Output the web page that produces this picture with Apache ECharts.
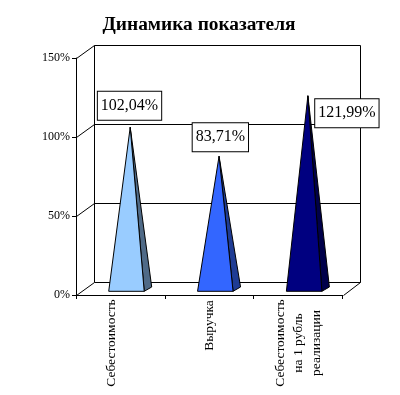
<!DOCTYPE html>
<html><head><meta charset="utf-8">
<style>html,body{margin:0;padding:0;background:#fff}#c{width:400px;height:395px}</style>
<script src="https://cdn.jsdelivr.net/npm/echarts@6/dist/echarts.min.js"></script>
</head><body><div id="c"></div>
<script>
const categories = ['Себестоимость', 'Выручка', 'Себестоимость на 1 рубль реализации'];
const values = [102.04, 83.71, 121.99];
const valueLabels = ['102,04%', '83,71%', '121,99%'];
const frontColors = ['#99CCFF', '#3366FF', '#000080'];
const sideColors = ['#4F6A87', '#1F3C94', '#00004A'];
const yTicks = [0, 50, 100, 150];

const FONT = '"Liberation Serif","Times New Roman",serif';
const DEPTH = [17.5, -13];
const labelShift = [[-0.7, -21.5], [1.3, -19], [39, 17.5]];
const axisLabelText = [
  '{t|Себестоимость}\n{t| }',
  '{s|Выручка}',
  '{t|Себестоимость}\n{t|на 1 рубль}\n{t|реализации}'
];

function px(v){ return Math.round(v) + 0.5; }

function renderWall(params, api) {
  const v = api.value(0);
  const front = api.coord([0, v]);
  const y = front[1];
  const cs = params.coordSys;
  const xL = cs.x, xR = cs.x + cs.width;
  const kids = [];
  const ln = (a, b, c, d) => kids.push({type:'line', shape:{x1:a,y1:b,x2:c,y2:d}, style:{stroke:'#000',lineWidth:1,fill:null}});
  ln(px(xL+DEPTH[0]), px(y+DEPTH[1]), px(xR+DEPTH[0]), px(y+DEPTH[1]));
  ln(px(xL), px(y), px(xL+DEPTH[0]), px(y+DEPTH[1]));
  if (v === 0) ln(px(xR), px(y), px(xR+DEPTH[0]), px(y+DEPTH[1]));
  if (v === 150) {
    const y0 = api.coord([0, 0])[1];
    ln(px(xL+DEPTH[0]), px(y+DEPTH[1]), px(xL+DEPTH[0]), px(y0+DEPTH[1]));
    ln(px(xR+DEPTH[0]), px(y+DEPTH[1]), px(xR+DEPTH[0]), px(y0+DEPTH[1]));
  }
  return {type:'group', children:kids};
}

function renderPyramid(params, api) {
  const i = params.dataIndex;
  const base = api.coord([i, 0]);
  const top = api.coord([i, api.value(1)]);
  const apex = [base[0]+9.8, top[1]-6.5];
  const fl = [base[0]-11.7, base[1]-3.7];
  const fr = [base[0]+23.8, base[1]-3.7];
  const br = [base[0]+31.3, base[1]-8];
  const shift = labelShift[i];
  return {type:'group', children:[
    {type:'polygon', shape:{points:[fr, br, apex]}, style:{fill:sideColors[i], stroke:'#000', lineWidth:1}},
    {type:'polygon', shape:{points:[fl, fr, apex]}, style:{fill:frontColors[i], stroke:'#000', lineWidth:1}},
    {type:'text', z2:50, style:{
      x:apex[0]+shift[0], y:top[1]-6.5+shift[1], text:valueLabels[i],
      font:'16px '+FONT, fill:'#000', align:'center', verticalAlign:'middle',
      backgroundColor:'#fff', borderColor:'#000', borderWidth:1, padding:[6,3,6,3]
    }}
  ]};
}

const chart = echarts.init(document.getElementById('c'), null, {renderer:'canvas'});
chart.setOption({
  animation:false,
  backgroundColor:'#fff',
  title:{text:'Динамика показателя', left:194, top:10, textAlign:'center',
    textStyle:{fontFamily:FONT, fontSize:19.4, fontWeight:'bold', color:'#000'}},
  grid:{left:76, right:57.5, top:58, bottom:100, containLabel:false},
  xAxis:{type:'category', data:categories, boundaryGap:true,
    axisLine:{lineStyle:{color:'#000',width:1}},
    axisTick:{show:true, length:4, lineStyle:{color:'#000'}},
    splitLine:{show:false},
    axisLabel:{interval:0, rotate:90, margin:48, align:'center', verticalAlign:'middle',
      color:'#000', fontFamily:FONT, fontSize:13.5,
      formatter:(v, i)=>axisLabelText[i],
      rich:{
        t:{fontFamily:FONT, fontSize:13.5, color:'#000', lineHeight:18, align:'center'},
        s:{fontFamily:FONT, fontSize:13.5, color:'#000', padding:[0,0,0,35]}
      }}
  },
  yAxis:{type:'value', min:0, max:150, interval:50,
    axisLine:{show:true, lineStyle:{color:'#000',width:1}},
    axisTick:{show:true, length:4, lineStyle:{color:'#000'}},
    splitLine:{show:false},
    axisLabel:{margin:6, color:'#000', fontFamily:FONT, fontSize:12, formatter:v=>v+'%'}
  },
  series:[
    {type:'custom', coordinateSystem:'cartesian2d', renderItem:renderWall, silent:true, z:1,
     encode:{y:0}, data:yTicks.map(v=>[v]), clip:false},
    {type:'custom', coordinateSystem:'cartesian2d', renderItem:renderPyramid, silent:true, z:5,
     encode:{x:0,y:1}, data:values.map((v,i)=>[i,v]), clip:false}
  ]
});
</script></body></html>
